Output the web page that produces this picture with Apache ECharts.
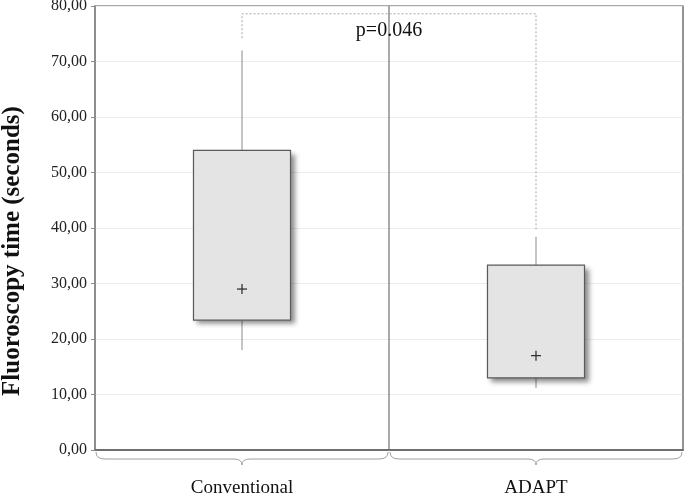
<!DOCTYPE html>
<html>
<head>
<meta charset="utf-8">
<script src="https://cdn.jsdelivr.net/npm/echarts@6/dist/echarts.min.js"></script>
<style>
  html, body { margin: 0; padding: 0; background: #fff; }
  #chart { width: 685px; height: 495px; }
</style>
</head>
<body>
<div id="chart"></div>
<script>
// values
const categories = ['Conventional', 'ADAPT']
const whiskerLow = [18.0, 11.2]
const q1 = [23.4, 13.0]
const q3 = [54.0, 33.3]
const whiskerHigh = [72.0, 38.4]
const means = [29.0, 17.0]
const yTicks = [0, 10, 20, 30, 40, 50, 60, 70, 80]

// significance bracket: left foot, top, right foot, label
const bracketLeftLow = 74.2
const bracketTop = 78.6
const bracketRightLow = 39.6
const pLabel = 'p=0.046'

const serif = '"Liberation Serif", "DejaVu Serif", serif'
const chart = echarts.init(document.getElementById('chart'))

const boxData = categories.map((c, i) => [i, whiskerLow[i], q1[i], q3[i], whiskerHigh[i], means[i]])

const renderBox = (params, api) => {
  const i = api.value(0)
  const lowPt = api.coord([i, api.value(1)])
  const q1Pt = api.coord([i, api.value(2)])
  const q3Pt = api.coord([i, api.value(3)])
  const hiPt = api.coord([i, api.value(4)])
  const meanPt = api.coord([i, api.value(5)])
  const bw = api.size([1, 0])[0] * 0.33
  const cx = q1Pt[0]
  const lineStyle = { stroke: '#8a8a8a', lineWidth: 1 }
  return {
    type: 'group',
    children: [
      { type: 'line', shape: { x1: cx, y1: hiPt[1], x2: cx, y2: q3Pt[1] }, style: lineStyle },
      { type: 'line', shape: { x1: cx, y1: q1Pt[1], x2: cx, y2: lowPt[1] }, style: lineStyle },
      {
        type: 'rect',
        shape: { x: cx - bw / 2, y: q3Pt[1], width: bw, height: q1Pt[1] - q3Pt[1] },
        style: {
          fill: '#e4e4e4', shadowBlur: 5, shadowOffsetX: 4, shadowOffsetY: 4, shadowColor: 'rgba(0,0,0,0.45)'
        }
      },
      {
        type: 'rect',
        shape: { x: cx - bw / 2, y: q3Pt[1], width: bw, height: q1Pt[1] - q3Pt[1] },
        style: { fill: '#e4e4e4', stroke: '#5a5a5a', lineWidth: 1.2 }
      },
      { type: 'line', shape: { x1: meanPt[0] - 5, y1: meanPt[1], x2: meanPt[0] + 5, y2: meanPt[1] }, style: { stroke: '#333', lineWidth: 1.3 } },
      { type: 'line', shape: { x1: meanPt[0], y1: meanPt[1] - 5, x2: meanPt[0], y2: meanPt[1] + 5 }, style: { stroke: '#333', lineWidth: 1.3 } }
    ]
  }
}

// curly braces under each category
const renderBrace = (params, api) => {
  const p = api.coord([api.value(0), 0])
  const w = api.size([1, 0])[0]
  const x0 = p[0] - w / 2 + 1
  const x1 = p[0] + w / 2 - 1
  const cx = p[0]
  const y0 = p[1] + 2
  const ym = p[1] + 9
  const yp = p[1] + 15
  const path = `M${x0},${y0} Q${x0},${ym} ${x0 + 9},${ym} L${cx - 8},${ym} Q${cx},${ym} ${cx},${yp} Q${cx},${ym} ${cx + 8},${ym} L${x1 - 9},${ym} Q${x1},${ym} ${x1},${y0}`
  return {
    type: 'path',
    shape: { pathData: path },
    style: { fill: null, stroke: '#a0a0a0', lineWidth: 1 }
  }
}

const renderBracket = (params, api) => {
  const a = api.coord([0, bracketLeftLow])
  const t0 = api.coord([0, bracketTop])
  const t1 = api.coord([1, bracketTop])
  const b = api.coord([1, bracketRightLow])
  const mid = (t0[0] + t1[0]) / 2
  const dash = { stroke: '#a8a8a8', lineWidth: 1, lineDash: [2, 2] }
  return {
    type: 'group',
    children: [
      { type: 'polyline', shape: { points: [a, t0, t1, b] }, style: Object.assign({ fill: null }, dash) },
      {
        type: 'text',
        x: mid, y: t0[1] + 17,
        style: { text: pLabel, font: '20px ' + serif, fill: '#111', align: 'center', verticalAlign: 'middle' }
      }
    ]
  }
}

chart.setOption({
  backgroundColor: '#fff',
  animation: false,
  grid: {
    left: 95, right: 2, top: 6, bottom: 45,
    containLabel: false, outerBoundsMode: 'none',
    show: true, borderColor: '#8c8c8c', borderWidth: 1.5
  },
  xAxis: {
    type: 'category',
    data: categories,
    boundaryGap: true,
    axisLine: { lineStyle: { color: '#6e6e6e', width: 2 } },
    axisTick: { show: false },
    axisLabel: { margin: 29, fontSize: 19, fontFamily: serif, color: '#111' },
    splitLine: { show: true, lineStyle: { color: '#8c8c8c', width: 1.5 } }
  },
  yAxis: {
    type: 'value',
    min: yTicks[0],
    max: yTicks[yTicks.length - 1],
    interval: 10,
    name: 'Fluoroscopy time (seconds)',
    nameLocation: 'middle',
    nameGap: 70,
    nameTextStyle: { fontSize: 25, fontWeight: 'bold', fontFamily: serif, color: '#111', padding: [0, 46, 0, 0] },
    axisLine: { show: true, lineStyle: { color: '#8c8c8c', width: 1.5 } },
    axisTick: { show: true, length: 4, lineStyle: { color: '#8c8c8c' } },
    axisLabel: {
      margin: 8, fontSize: 16, fontFamily: serif, color: '#222',
      formatter: v => v.toFixed(2).replace('.', ',')
    },
    splitLine: { lineStyle: { color: '#ececec', width: 1 } }
  },
  series: [
    { type: 'custom', renderItem: renderBrace, data: categories.map((c, i) => [i]), clip: false, silent: true, z: 1 },
    { type: 'custom', renderItem: renderBox, data: boxData, encode: { x: 0, y: [1, 2, 3, 4, 5] }, z: 3 },
    { type: 'custom', renderItem: renderBracket, data: [[0]], clip: false, silent: true, z: 2 }
  ]
})
</script>
</body>
</html>
